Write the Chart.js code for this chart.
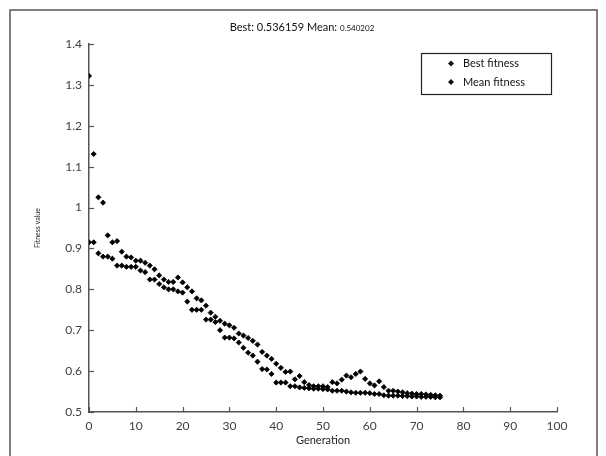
<!DOCTYPE html>
<html>
<head>
<meta charset="utf-8">
<script src="https://cdn.jsdelivr.net/npm/chart.js@4.4.0/dist/chart.umd.min.js"></script>
<style>
  html, body { margin: 0; padding: 0; background: #fff; }
  #wrap { position: relative; width: 606px; height: 456px; }
</style>
</head>
<body>
<div id="wrap"><canvas id="fitness-chart" width="606" height="456"></canvas></div>
<script>
// Values, one entry per generation (0..75)
const meanFitness = [
  1.322, 1.131, 1.025, 1.012, 0.932, 0.915, 0.918, 0.892, 0.880, 0.878,
  0.870, 0.870, 0.865, 0.858, 0.849, 0.834, 0.824, 0.818, 0.818, 0.829,
  0.817, 0.805, 0.795, 0.778, 0.773, 0.760, 0.743, 0.733, 0.723, 0.716,
  0.712, 0.706, 0.692, 0.687, 0.681, 0.674, 0.665, 0.647, 0.638, 0.630,
  0.618, 0.608, 0.598, 0.599, 0.580, 0.588, 0.573, 0.566, 0.563, 0.563,
  0.563, 0.561, 0.573, 0.570, 0.579, 0.589, 0.585, 0.593, 0.599, 0.581,
  0.570, 0.565, 0.575, 0.561, 0.552, 0.552, 0.550, 0.548, 0.546, 0.545,
  0.544, 0.544, 0.543, 0.542, 0.541, 0.540
];
const bestFitness = [
  0.915, 0.915, 0.888, 0.880, 0.880, 0.875, 0.858, 0.858, 0.855, 0.855,
  0.855, 0.846, 0.842, 0.824, 0.824, 0.813, 0.805, 0.800, 0.800, 0.795,
  0.792, 0.770, 0.750, 0.750, 0.750, 0.726, 0.726, 0.720, 0.700, 0.682,
  0.682, 0.680, 0.670, 0.657, 0.645, 0.638, 0.623, 0.605, 0.604, 0.593,
  0.572, 0.572, 0.572, 0.563, 0.563, 0.560, 0.559, 0.558, 0.557, 0.557,
  0.556, 0.555, 0.552, 0.552, 0.552, 0.550, 0.548, 0.547, 0.547, 0.547,
  0.546, 0.544, 0.544, 0.541, 0.540, 0.540, 0.540, 0.539, 0.539, 0.538,
  0.538, 0.537, 0.537, 0.537, 0.536, 0.536
];
const xTicks = [0, 10, 20, 30, 40, 50, 60, 70, 80, 90, 100];
const yTicks = [0.5, 0.6, 0.7, 0.8, 0.9, 1, 1.1, 1.2, 1.3, 1.4];
const yTickLabels = ['0.5', '0.6', '0.7', '0.8', '0.9', '1', '1.1', '1.2', '1.3', '1.4'];
const titleMain = 'Best: 0.536159 Mean: ';
const titleSmall = '0.540202';

const FONT = 'Lato, "Open Sans", sans-serif';

const toPoints = arr => arr.map((y, i) => ({ x: i, y: y }));

// frame, title, inner tick marks and boxed legend
const decorations = {
  id: 'decorations',
  afterDraw(chart) {
    const ctx = chart.ctx;
    const area = chart.chartArea;
    ctx.save();

    // outer frame
    ctx.strokeStyle = '#555';
    ctx.lineWidth = 1.5;
    ctx.strokeRect(10, 10, 587, 470);

    // title with smaller mean value
    ctx.fillStyle = '#111';
    ctx.textBaseline = 'alphabetic';
    ctx.textAlign = 'left';
    ctx.font = '11px ' + FONT;
    const w1 = ctx.measureText(titleMain).width;
    ctx.font = '8px ' + FONT;
    const w2 = ctx.measureText(titleSmall).width;
    let tx = 302 - (w1 + w2) / 2;
    ctx.font = '11px ' + FONT;
    ctx.fillText(titleMain, tx, 31);
    ctx.font = '8px ' + FONT;
    ctx.fillText(titleSmall, tx + w1, 31);

    // tick marks pointing into the plot
    ctx.strokeStyle = '#555';
    ctx.lineWidth = 1.2;
    const xs = chart.scales.x, ys = chart.scales.y;
    xs.ticks.forEach(t => {
      const px = Math.round(xs.getPixelForValue(t.value)) + 0.5;
      ctx.beginPath();
      ctx.moveTo(px, area.bottom);
      ctx.lineTo(px, area.bottom - 5);
      ctx.stroke();
    });
    ys.ticks.forEach(t => {
      const py = Math.round(ys.getPixelForValue(t.value)) + 0.5;
      ctx.beginPath();
      ctx.moveTo(area.left, py);
      ctx.lineTo(area.left + 5, py);
      ctx.stroke();
    });

    // legend box
    ctx.strokeStyle = '#222';
    ctx.lineWidth = 1.2;
    ctx.strokeRect(421.5, 53.5, 130, 41);
    ctx.font = '11px ' + FONT;
    ctx.textBaseline = 'middle';
    ctx.fillStyle = '#111';
    chart.data.datasets.forEach((ds, i) => {
      const cy = 63.5 + i * 18.5;
      ctx.beginPath();
      ctx.moveTo(451 - 3, cy);
      ctx.lineTo(451, cy - 3);
      ctx.lineTo(451 + 3, cy);
      ctx.lineTo(451, cy + 3);
      ctx.closePath();
      ctx.fill();
      ctx.fillText(ds.label, 463, cy);
    });
    ctx.restore();
  }
};

new Chart(document.getElementById('fitness-chart').getContext('2d'), {
  type: 'scatter',
  data: {
    datasets: [
      {
        label: 'Best fitness',
        data: toPoints(bestFitness),
        pointStyle: 'rectRot',
        pointRadius: 2.6,
        borderWidth: 0.8,
        borderColor: '#000',
        backgroundColor: '#000'
      },
      {
        label: 'Mean fitness',
        data: toPoints(meanFitness),
        pointStyle: 'rectRot',
        pointRadius: 2.6,
        borderWidth: 0.8,
        borderColor: '#000',
        backgroundColor: '#000'
      }
    ]
  },
  options: {
    responsive: false,
    animation: false,
    layout: { padding: { left: 30, top: 44, right: 49, bottom: 0 } },
    plugins: {
      legend: { display: false },
      tooltip: { enabled: false }
    },
    scales: {
      x: {
        type: 'linear',
        min: 0,
        max: 100,
        afterBuildTicks: s => { s.ticks = xTicks.map(v => ({ value: v })); },
        afterFit: s => { s.height = 44; },
        border: { display: true, color: '#555', width: 1.5 },
        grid: { display: false, drawTicks: false },
        ticks: { padding: 7, color: '#404040', font: { family: FONT, size: 12 } },
        title: {
          display: true,
          text: 'Generation',
          color: '#222',
          font: { family: FONT, size: 11 },
          padding: { top: 0, bottom: 9 }
        }
      },
      y: {
        type: 'linear',
        min: 0.5,
        max: 1.4,
        afterBuildTicks: s => { s.ticks = yTicks.map(v => ({ value: v })); },
        afterFit: s => { s.width = 59; },
        border: { display: true, color: '#555', width: 1.5 },
        grid: { display: false, drawTicks: false },
        ticks: {
          padding: 7,
          color: '#404040',
          font: { family: FONT, size: 12 },
          callback: (v) => yTickLabels[yTicks.indexOf(Math.round(v * 10) / 10)]
        },
        title: {
          display: true,
          text: 'Fitness value',
          color: '#222',
          font: { family: FONT, size: 7 },
          padding: { top: 4, bottom: 0 }
        }
      }
    }
  },
  plugins: [decorations]
});
</script>
</body>
</html>
